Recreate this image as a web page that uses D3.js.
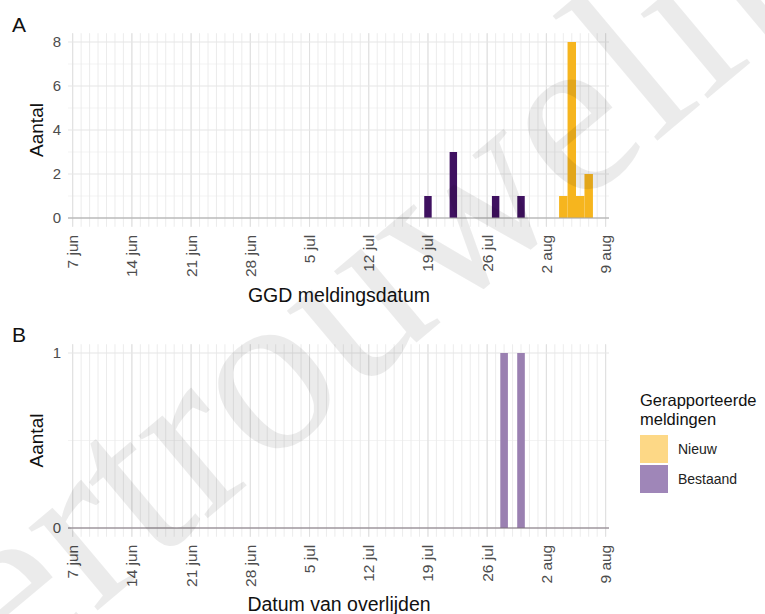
<!DOCTYPE html>
<html>
<head>
<meta charset="utf-8">
<script src="https://cdn.jsdelivr.net/npm/d3@7"></script>
<style>
  body { margin: 0; background: #fff; }
  svg { font-family: "Liberation Sans", Arial, sans-serif; }
</style>
</head>
<body>
<div id="chart"></div>
<script>
// data
var newDates = ["2020-08-04", "2020-08-05", "2020-08-06", "2020-08-07"];
var newCounts = [1, 8, 1, 2];
var existingDates = ["2020-07-19", "2020-07-22", "2020-07-27", "2020-07-30"];
var existingCounts = [1, 3, 1, 1];
var deathDates = ["2020-07-28", "2020-07-30"];
var deathCounts = [1, 1];
var weekTicks = ["2020-06-07", "2020-06-14", "2020-06-21", "2020-06-28", "2020-07-05",
    "2020-07-12", "2020-07-19", "2020-07-26", "2020-08-02", "2020-08-09"];
var weekLabels = ["7 jun", "14 jun", "21 jun", "28 jun", "5 jul", "12 jul", "19 jul", "26 jul", "2 aug", "9 aug"];
var legendLabels = ["Nieuw", "Bestaand"];

var parse = d3.timeParse("%Y-%m-%d");
var dayMs = 864e5;

var width = 765, height = 614;
var svg = d3.select("#chart").append("svg")
    .attr("width", width)
    .attr("height", height);

// shared x scale (daily bars)
var x0 = parse("2020-06-07"), x1 = parse("2020-08-09");
var xScale = d3.scaleTime()
    .domain([new Date(+x0 - 0.55 * dayMs), new Date(+x1 + 0.4 * dayMs)])
    .range([68, 609]);
var dayW = xScale(new Date(+x0 + dayMs)) - xScale(x0);
var allDays = d3.timeDay.range(x0, new Date(+x1 + 1));

function drawPanel(opt) {
    var g = svg.append("g");
    var y = d3.scaleLinear().domain(opt.ydomain).range([opt.bottom, opt.top]);
    var pad = (opt.bottom - opt.top) * 0.05;
    var pTop = opt.top - pad, pBot = opt.bottom + pad;

    // minor horizontal grid
    g.selectAll(".hmin").data(opt.minor).enter().append("line")
        .attr("x1", 68).attr("x2", 609)
        .attr("y1", d => y(d)).attr("y2", d => y(d))
        .attr("stroke", "#f0f0f0").attr("stroke-width", 0.8);
    // daily vertical grid
    g.selectAll(".vday").data(allDays).enter().append("line")
        .attr("x1", d => xScale(d)).attr("x2", d => xScale(d))
        .attr("y1", pTop).attr("y2", pBot)
        .attr("stroke", "#eaeaea").attr("stroke-width", 0.9);
    // weekly vertical grid
    g.selectAll(".vweek").data(weekTicks).enter().append("line")
        .attr("x1", d => xScale(parse(d))).attr("x2", d => xScale(parse(d)))
        .attr("y1", pTop).attr("y2", pBot)
        .attr("stroke", "#e0e0e0").attr("stroke-width", 1.1);
    // major horizontal grid
    g.selectAll(".hmaj").data(opt.yticks).enter().append("line")
        .attr("x1", 68).attr("x2", 609)
        .attr("y1", d => y(d)).attr("y2", d => y(d))
        .attr("stroke", "#e6e6e6").attr("stroke-width", 1.1);

    // bars
    opt.series.forEach(function(s) {
        g.selectAll(null).data(s.dates).enter().append("rect")
            .attr("x", d => xScale(parse(d)) - dayW * s.frac / 2)
            .attr("width", dayW * s.frac)
            .attr("y", (d, i) => y(s.values[i]))
            .attr("height", (d, i) => y(0) - y(s.values[i]))
            .attr("fill", s.color);
    });

    // zero line
    g.append("line")
        .attr("x1", 68).attr("x2", 609)
        .attr("y1", y(0)).attr("y2", y(0))
        .attr("stroke", opt.zeroColor).attr("stroke-width", 1.2);

    // y tick labels
    g.selectAll(".ylab").data(opt.yticks).enter().append("text")
        .attr("x", 61).attr("y", d => y(d))
        .attr("dy", "0.35em")
        .attr("text-anchor", "end")
        .attr("font-size", 15)
        .attr("fill", "#4d4d4d")
        .text(d => d);

    // x tick labels
    g.selectAll(".xlab").data(weekTicks).enter().append("text")
        .attr("transform", d => `translate(${xScale(parse(d))},${pBot + 8}) rotate(-90)`)
        .attr("text-anchor", "end")
        .attr("dy", "0.35em")
        .attr("font-size", 15.5)
        .attr("fill", "#4d4d4d")
        .text((d, i) => weekLabels[i]);

    // titles
    g.append("text")
        .attr("transform", `translate(43,${(opt.top + opt.bottom) / 2}) rotate(-90)`)
        .attr("text-anchor", "middle")
        .attr("font-size", 19)
        .attr("fill", "#111")
        .text("Aantal");
    g.append("text")
        .attr("x", 339).attr("y", opt.xtitleY)
        .attr("text-anchor", "middle")
        .attr("font-size", 19.5)
        .attr("fill", "#111")
        .text(opt.xtitle);
    g.append("text")
        .attr("x", 12).attr("y", opt.letterY)
        .attr("font-size", 21)
        .attr("fill", "#111")
        .text(opt.letter);
}

drawPanel({
    letter: "A", letterY: 32,
    top: 42, bottom: 218,
    ydomain: [0, 8],
    yticks: [0, 2, 4, 6, 8],
    minor: [1, 3, 5, 7],
    series: [
        { dates: existingDates, values: existingCounts, color: "#3f1160", frac: 0.88 },
        { dates: newDates, values: newCounts, color: "#f6b51e", frac: 1.0 }
    ],
    zeroColor: "#a3a3a3",
    xtitle: "GGD meldingsdatum", xtitleY: 302
});

drawPanel({
    letter: "B", letterY: 342,
    top: 353, bottom: 528,
    ydomain: [0, 1],
    yticks: [0, 1],
    minor: [0.5],
    series: [
        { dates: deathDates, values: deathCounts, color: "#9a80b1", frac: 0.9 }
    ],
    zeroColor: "#7a6e78",
    xtitle: "Datum van overlijden", xtitleY: 611
});

// legend
var legend = svg.append("g").attr("transform", "translate(640,0)");
legend.append("text").attr("x", 0).attr("y", 406).attr("font-size", 16.5).attr("fill", "#111").text("Gerapporteerde");
legend.append("text").attr("x", 0).attr("y", 425).attr("font-size", 16.5).attr("fill", "#111").text("meldingen");
var legendColors = ["#fdd886", "#9f86b8"];
legend.selectAll(".sw").data(legendLabels).enter().append("rect")
    .attr("x", 0).attr("y", (d, i) => 435 + i * 30)
    .attr("width", 28).attr("height", 28)
    .attr("fill", (d, i) => legendColors[i]);
legend.selectAll(".lt").data(legendLabels).enter().append("text")
    .attr("x", 38).attr("y", (d, i) => 449 + i * 30)
    .attr("dy", "0.35em")
    .attr("font-size", 14)
    .attr("fill", "#222")
    .text(d => d);

// watermark on top, semi-transparent
svg.append("text")
    .attr("transform", "translate(-76,756) rotate(-40)")
    .attr("font-family", "'Liberation Serif', 'DejaVu Serif', serif")
    .attr("font-size", 235)
    .attr("fill", "#000")
    .attr("fill-opacity", 0.08)
    .attr("pointer-events", "none")
    .text("vertrouwelijk");
</script>
</body>
</html>
